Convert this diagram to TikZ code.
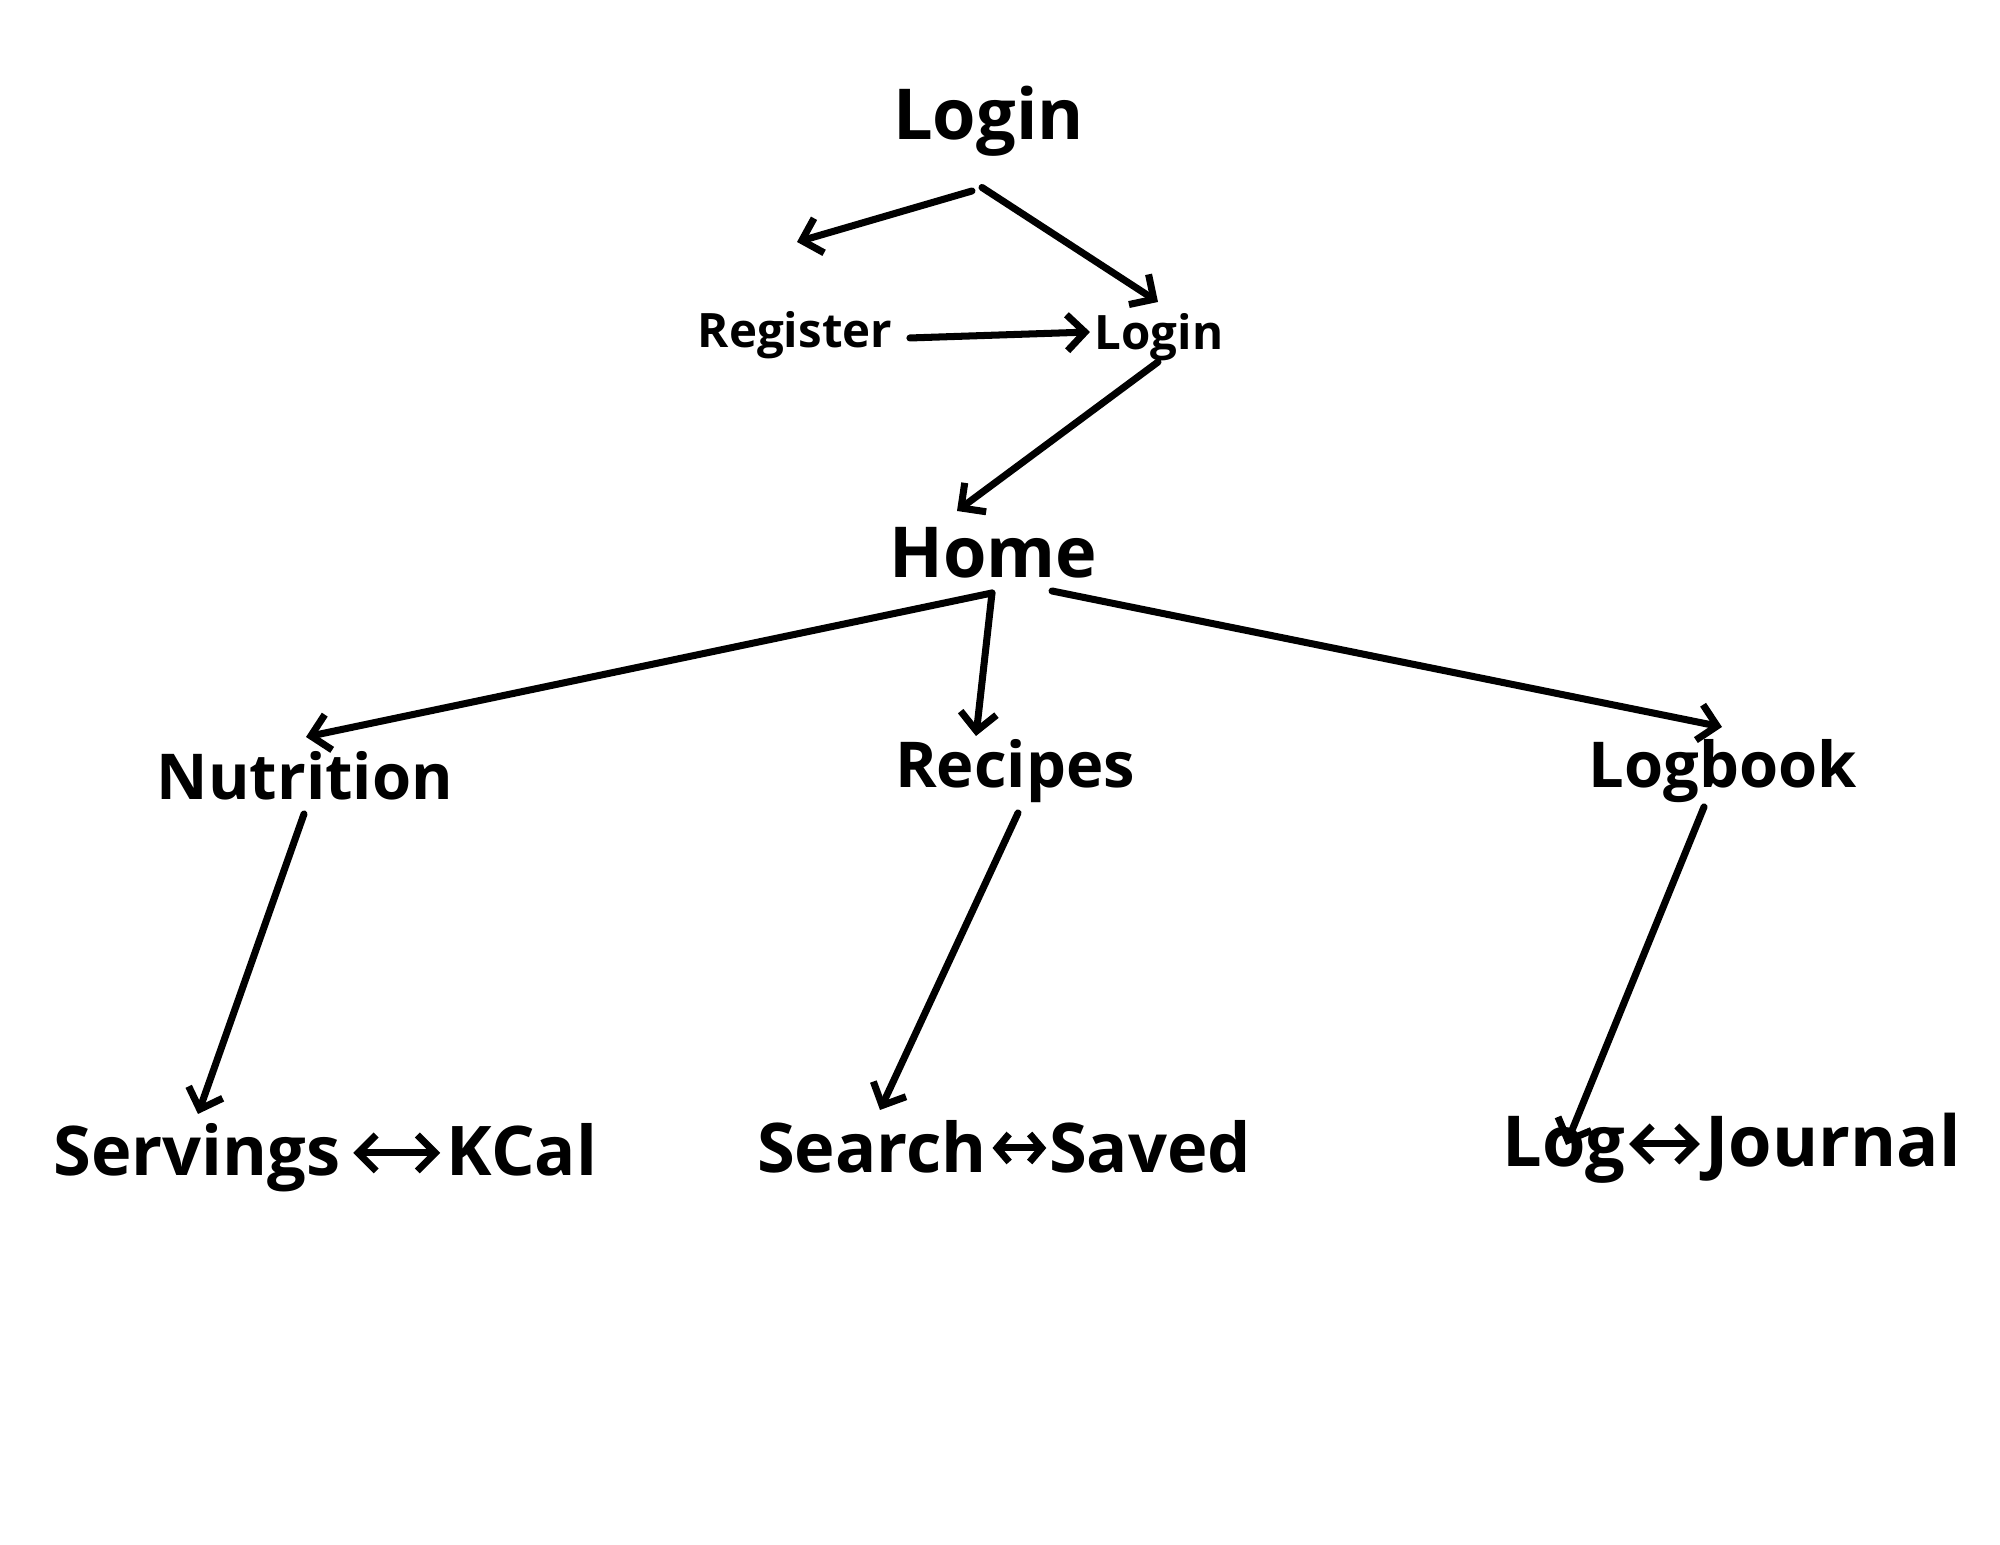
\documentclass[tikz,border=0pt]{standalone}
\usepackage{fontspec}
\setmainfont{Open Sans}
\usetikzlibrary{arrows.meta}
\begin{document}
\begin{tikzpicture}[>={Straight Barb[length=1.8mm,width=3.6mm]},
    arr/.style={->, line width=2pt, line cap=round},
    biarr/.style={<->, line width=2pt, line cap=round},
    shortbi/.style={{Straight Barb[length=1.2mm,width=2.8mm]}-{Straight Barb[length=1.2mm,width=2.8mm]}, line width=2pt, line cap=round},
    big/.style={anchor=base, inner sep=0pt, font=\fontsize{20}{24}\selectfont\bfseries},
    mid/.style={anchor=base, inner sep=0pt, font=\fontsize{19.5}{23}\selectfont\bfseries},
    page/.style={anchor=base, inner sep=0pt, font=\fontsize{18}{22}\selectfont\bfseries},
    small/.style={anchor=base, inner sep=0pt, font=\fontsize{13.5}{16}\selectfont\bfseries}]
  \useasboundingbox (0,0) rectangle (20,15.45);
  % --- top: login / register ---
  \node[big] (login) at (9.885,14.05) {Login};
  \node[small] (register) at (7.95,11.97) {Register};
  \node[small] (loginb) at (11.59,11.955) {Login};
  \node[big] (home) at (9.935,9.67) {Home};
  \draw[arr] ([shift={(-0.165,-0.51)}]login.base) -- ([shift={(0.02,1.06)}]register.base);
  \draw[arr] ([shift={(-0.065,-0.475)}]login.base) -- ([shift={(-0.01,0.475)}]loginb.base);
  \draw[arr] ([shift={(0.17,0.10)}]register.base east) -- ([shift={(-0.04,0.175)}]loginb.base west);
  \draw[arr] ([shift={(-0.01,-0.125)}]loginb.base) -- ([shift={(-0.365,0.67)}]home.base);
  % --- home and its three pages ---
  \node[page] (nutrition) at (3.05,7.45) {Nutrition};
  \node[page] (recipes) at (10.15,7.57) {Recipes};
  \node[page] (logbook) at (17.23,7.57) {Logbook};
  \draw[arr] ([shift={(-0.015,-0.15)}]home.base) -- ([shift={(0.01,0.63)}]nutrition.base);
  \draw[arr] ([shift={(-0.015,-0.15)}]home.base) -- ([shift={(-0.39,0.52)}]recipes.base);
  \draw[arr] ([shift={(0.585,-0.13)}]home.base) -- ([shift={(-0.01,0.61)}]logbook.base);
  % --- bottom row ---
  \node[mid] (servings) at (1.97,3.69) {Servings};
  \node[mid] (kcal) at (5.22,3.69) {KCal};
  \node[mid] (search) at (8.72,3.72) {Search};
  \node[mid] (saved) at (11.50,3.72) {Saved};
  \node[big] (log) at (15.64,3.78) {Log};
  \node[big] (journal) at (18.33,3.78) {Journal};
  \draw[arr] ([shift={(-0.01,-0.14)}]nutrition.base) -- ([shift={(0.01,0.62)}]servings.base);
  \draw[arr] ([shift={(0.03,-0.25)}]recipes.base) -- ([shift={(0.08,0.63)}]search.base);
  \draw[arr] ([shift={(-0.19,-0.19)}]logbook.base) -- ([shift={(0.02,0.22)}]log.base);
  \draw[biarr] ([shift={(0.12,0.23)}]servings.base east) -- ([shift={(-0.06,0.23)}]kcal.base west);
  \draw[shortbi] ([shift={(0.05,0.25)}]search.base east) -- ([shift={(-0.02,0.25)}]saved.base west);
  \draw[biarr] ([shift={(0.03,0.23)}]log.base east) -- ([shift={(-0.05,0.23)}]journal.base west);
\end{tikzpicture}
\end{document}
